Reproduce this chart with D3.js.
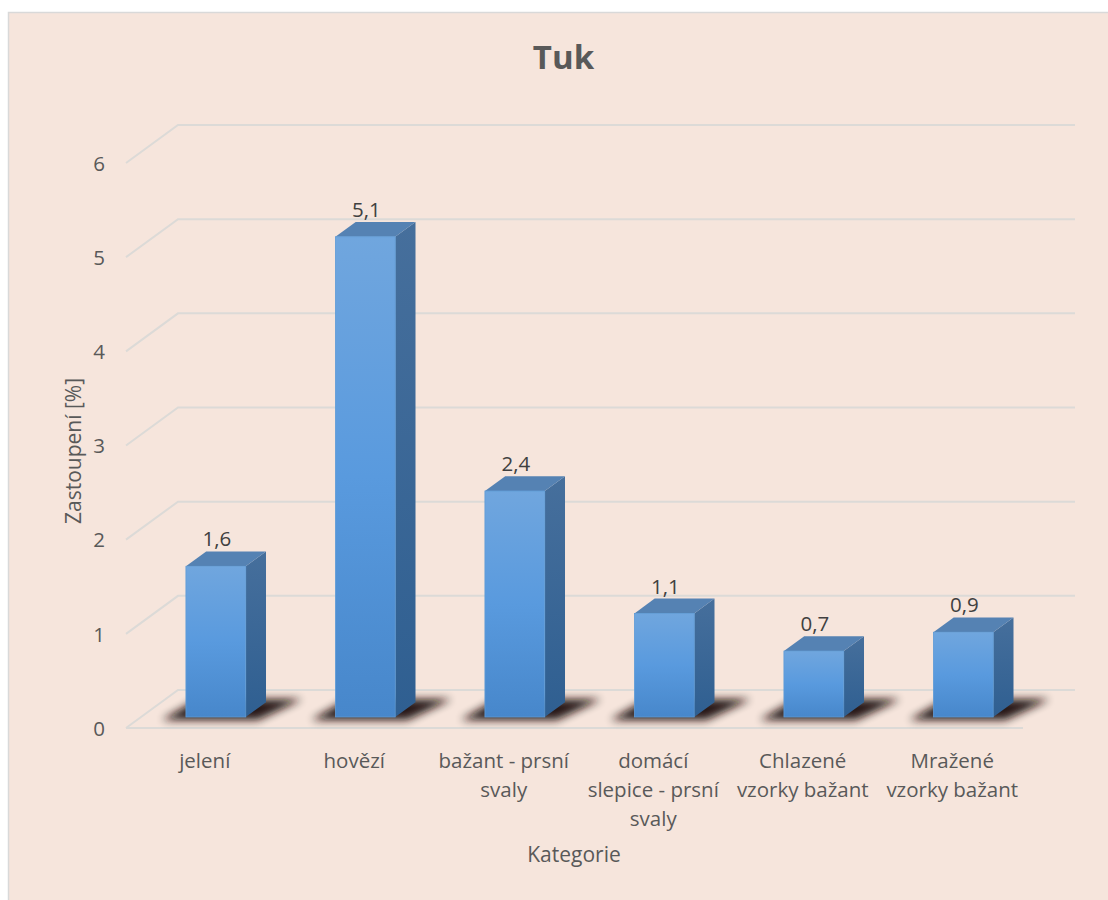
<!DOCTYPE html>
<html>
<head>
<meta charset="utf-8">
<script src="https://cdn.jsdelivr.net/npm/d3@7"></script>
<style>
  html, body { margin: 0; padding: 0; background: #ffffff; overflow: hidden; }
  svg { display: block; }
  text { font-family: "Open Sans", Lato, sans-serif; }
</style>
</head>
<body>
<svg id="chart" width="1108" height="900"></svg>
<script>
// Fat content by category
const title = "Tuk";
const categories = [
  "jelení",
  "hovězí",
  "bažant - prsní svaly",
  "domácí slepice - prsní svaly",
  "Chlazené vzorky bažant",
  "Mražené vzorky bažant"
];
const values = [1.6, 5.1, 2.4, 1.1, 0.7, 0.9];
const yTicks = [0, 1, 2, 3, 4, 5, 6];
const yAxisTitle = "Zastoupení [%]";
const xAxisTitle = "Kategorie";

const svg = d3.select("#chart");
const W = 1108, H = 900;
const FONT = "'Open Sans', Lato, sans-serif";

// chart area
svg.append("rect")
  .attr("x", 8.5).attr("y", 12.5)
  .attr("width", W + 50).attr("height", H + 50)
  .attr("fill", "#f6e5dc")
  .attr("stroke", "#d9d9d9").attr("stroke-width", 1.5);

// oblique 3D projection: depth z in [0,1] shifts right and up
const DX = 52, DY = 38;
const x = d3.scaleBand().domain(categories).range([126, 1023]).paddingInner(0).paddingOuter(0);
const y = d3.scaleLinear().domain([0, 6]).range([728, 163]);
const proj = (px, v, z) => [px + z * DX, y(v) - z * DY];

const defs = svg.append("defs");
const gFront = defs.append("linearGradient").attr("id", "front").attr("x1", 0).attr("y1", 0).attr("x2", 0).attr("y2", 1);
gFront.append("stop").attr("offset", "0%").attr("stop-color", "#70a6de");
gFront.append("stop").attr("offset", "50%").attr("stop-color", "#599ade");
gFront.append("stop").attr("offset", "100%").attr("stop-color", "#4787cb");
const gSide = defs.append("linearGradient").attr("id", "side").attr("x1", 0).attr("y1", 0).attr("x2", 0).attr("y2", 1);
gSide.append("stop").attr("offset", "0%").attr("stop-color", "#466f9c");
gSide.append("stop").attr("offset", "100%").attr("stop-color", "#2f5f91");
const blur = defs.append("filter").attr("id", "shadowBlur")
  .attr("x", "-50%").attr("y", "-100%").attr("width", "200%").attr("height", "300%");
blur.append("feGaussianBlur").attr("stdDeviation", 4);

// gridlines: back wall and left side wall
const grid = svg.append("g").attr("fill", "none").attr("stroke", "#dcdad7").attr("stroke-width", 2);
const x0 = x.range()[0], x1 = x.range()[1];
yTicks.forEach(v => {
  const f = proj(x0, v, 0), b = proj(x0, v, 1), br = proj(x1, v, 1);
  grid.append("path").attr("d", d3.line()([f, b, br]));
});
// floor front edge
grid.append("path").attr("d", d3.line()([proj(x0, 0, 0), proj(x1, 0, 0)]));

// y-axis labels on the front plane
const yAxis = d3.axisLeft(y).tickValues(yTicks).tickSize(0).tickPadding(0).tickFormat(d3.format("d"));
const ya = svg.append("g").attr("transform", "translate(105,0)").call(yAxis);
ya.select(".domain").remove();
ya.selectAll("text")
  .attr("font-family", FONT)
  .attr("font-size", 20.5).attr("fill", "#595959").attr("dy", "0.35em");

// bars
const zF = 0.29, zB = 0.68;
const barW = x.bandwidth() * 0.4;
const fmt = d3.formatLocale({ decimal: ",", thousands: " ", grouping: [3], currency: ["", ""] }).format(".1f");

const bars = svg.append("g");
categories.forEach((c, i) => {
  const v = values[i];
  const cx = x(c) + x.bandwidth() / 2;
  const l = cx - barW / 2, r = cx + barW / 2;
  const ftl = proj(l, v, zF), ftr = proj(r, v, zF), fbl = proj(l, 0, zF), fbr = proj(r, 0, zF);
  const btl = proj(l, v, zB), btr = proj(r, v, zB), bbr = proj(r, 0, zB), bbl = proj(l, 0, zB);
  const g = bars.append("g");
  // floor shadow
  g.append("path")
    .attr("d", d3.line()([
      [fbl[0] - 24, fbl[1] + 3], [fbr[0] + 12, fbr[1] + 3],
      [bbr[0] + 36, bbr[1] - 3], [bbl[0] - 8, bbl[1] - 3]
    ]) + "Z")
    .attr("fill", "#1a0f08").attr("opacity", 0.95)
    .attr("filter", "url(#shadowBlur)");
  // right side
  g.append("path").attr("d", d3.line()([ftr, btr, bbr, fbr]) + "Z").attr("fill", "url(#side)");
  // top
  g.append("path").attr("d", d3.line()([ftl, btl, btr, ftr]) + "Z").attr("fill", "#5582b3");
  // front
  g.append("rect")
    .attr("x", ftl[0]).attr("y", ftl[1])
    .attr("width", barW).attr("height", fbl[1] - ftl[1])
    .attr("fill", "url(#front)")
    .attr("stroke", "#5e9bd6").attr("stroke-width", 0.8);
  // value label
  g.append("text")
    .attr("x", ftl[0] + barW / 2 + 1).attr("y", btl[1] - 5)
    .attr("text-anchor", "middle")
    .attr("font-size", 20.5).attr("fill", "#404040")
    .text(fmt(v));
});

// category labels, wrapped to the slot width
const maxLine = 142;
const catG = svg.append("g").attr("font-size", 20.5).attr("fill", "#595959").attr("text-anchor", "middle");
categories.forEach(c => {
  const words = c.replace(/ - /g, "\u00a0-\u00a0").split(" ");
  const cx = x(c) + x.bandwidth() / 2 + 4;
  const t = catG.append("text").attr("x", cx).attr("y", 768);
  const lines = [];
  let cur = "";
  words.forEach(w => {
    const trial = cur ? cur + " " + w : w;
    t.text(trial);
    if (cur && t.node().getComputedTextLength() > maxLine) { lines.push(cur); cur = w; }
    else cur = trial;
  });
  lines.push(cur);
  t.text(null);
  lines.forEach((ln, k) => {
    t.append("tspan").attr("x", cx).attr("dy", k ? 29 : 0)
      .text(ln.replace(/\u00a0/g, " "));
  });
});

// axis titles
svg.append("text")
  .attr("x", 574).attr("y", 862)
  .attr("text-anchor", "middle").attr("font-size", 21).attr("fill", "#595959")
  .text(xAxisTitle);
svg.append("text")
  .attr("transform", "translate(81,451) rotate(-90)")
  .attr("text-anchor", "middle").attr("font-size", 21).attr("fill", "#595959")
  .text(yAxisTitle);

// title
svg.append("text")
  .attr("x", 563.5).attr("y", 69)
  .attr("text-anchor", "middle").attr("font-size", 33).attr("font-weight", "bold").attr("fill", "#595959")
  .text(title);
</script>
</body>
</html>
